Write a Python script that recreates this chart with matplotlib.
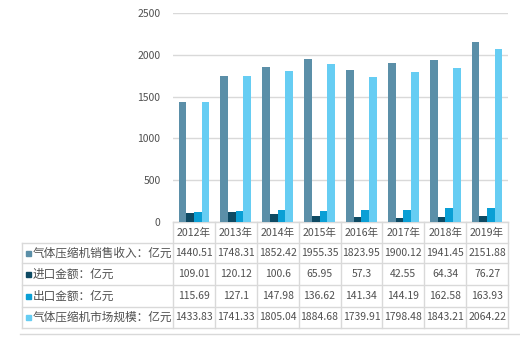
import matplotlib
matplotlib.use("Agg")
import matplotlib.pyplot as plt
import matplotlib.transforms as mtransforms
from matplotlib.patches import Rectangle
from matplotlib.lines import Line2D
import numpy as np

plt.rcParams['font.family'] = ['Noto Sans CJK SC', 'DejaVu Sans']

years = ["2012年", "2013年", "2014年", "2015年", "2016年", "2017年", "2018年", "2019年"]
series_names = ["气体压缩机销售收入：亿元", "进口金额：亿元", "出口金额：亿元", "气体压缩机市场规模：亿元"]
sales = [1440.51, 1748.31, 1852.42, 1955.35, 1823.95, 1900.12, 1941.45, 2151.88]
imports = [109.01, 120.12, 100.6, 65.95, 57.3, 42.55, 64.34, 76.27]
exports = [115.69, 127.1, 147.98, 136.62, 141.34, 144.19, 162.58, 163.93]
market = [1433.83, 1741.33, 1805.04, 1884.68, 1739.91, 1798.48, 1843.21, 2064.22]
colors = ["#5B8FA8", "#0E4A63", "#0A9FD5", "#66CDF3"]

GRAY = "#505050"
LINE = "#D9D9D9"

fig = plt.figure(figsize=(5.2, 3.37), dpi=100)
W, H = 520, 337
left, right, top, bottom = 173, 508, 13, 222
ax = fig.add_axes([left / W, 1 - bottom / H, (right - left) / W, (bottom - top) / H])

x = np.arange(len(years))
bw = 0.183
all_series = [sales, imports, exports, market]
for k, (vals, c) in enumerate(zip(all_series, colors)):
    ax.bar(x + (k - 1.5) * bw, vals, width=bw, color=c, zorder=3)

ax.set_xlim(-0.5, len(years) - 0.5)
ax.set_ylim(0, 2500)
ax.set_yticks(range(0, 2501, 500))
ax.yaxis.grid(True, color=LINE, linewidth=1)
ax.set_axisbelow(True)
for s in ["top", "right", "left"]:
    ax.spines[s].set_visible(False)
ax.spines["bottom"].set_color(LINE)
ax.set_xticks([])
ax.tick_params(axis="y", length=0, labelsize=7.5, labelcolor=GRAY, pad=9)

# data table under the axes
ax_h = bottom - top
def ay(py):
    return (bottom - py) / ax_h

trans = mtransforms.blended_transform_factory(ax.transData, ax.transAxes)
label_left = (22 - left) / (right - left)
row_edges = [222, 243, 263, 285, 307, 328]

# horizontal lines
for i, py in enumerate(row_edges):
    x0 = -0.5 if i == 0 else -0.5 - (0 - label_left) * len(years)
    ax.plot([x0, len(years) - 0.5], [ay(py), ay(py)], transform=trans,
            color=LINE, linewidth=1, clip_on=False)
# vertical lines
for i in range(len(years) + 1):
    ax.plot([i - 0.5, i - 0.5], [ay(222), ay(328)], transform=trans,
            color=LINE, linewidth=1, clip_on=False)
ax.plot([label_left, label_left], [ay(243), ay(328)], transform=ax.transAxes,
        color=LINE, linewidth=1, clip_on=False)

# frame line at the bottom of the picture
fig.lines.append(Line2D([20 / W, 1], [1 - 333.5 / H, 1 - 333.5 / H],
                        transform=fig.transFigure, color=LINE, linewidth=1))

# header years
for i, yl in enumerate(years):
    ax.text(i, ay((222 + 243) / 2), yl, transform=trans, ha="center", va="center",
            fontsize=7.6, color=GRAY, clip_on=False)

# rows
for r, (name, vals, c) in enumerate(zip(series_names, all_series, colors)):
    yc = ay((row_edges[r + 1] + row_edges[r + 2]) / 2)
    fig.patches.append(Rectangle((26 / W, 1 - (row_edges[r + 1] + row_edges[r + 2]) / 2 / H - 2.6 / H),
                                 5 / W, 5 / H, transform=fig.transFigure,
                                 color=c, figure=fig))
    fig.text(33 / W, 1 - (row_edges[r + 1] + row_edges[r + 2]) / 2 / H, name,
             ha="left", va="center", fontsize=8.4, color=GRAY)
    for i, v in enumerate(vals):
        ax.text(i, yc, f"{v:g}", transform=trans, ha="center", va="center",
                fontsize=7.5, color=GRAY, clip_on=False)

fig.savefig("out.png", dpi=100)
